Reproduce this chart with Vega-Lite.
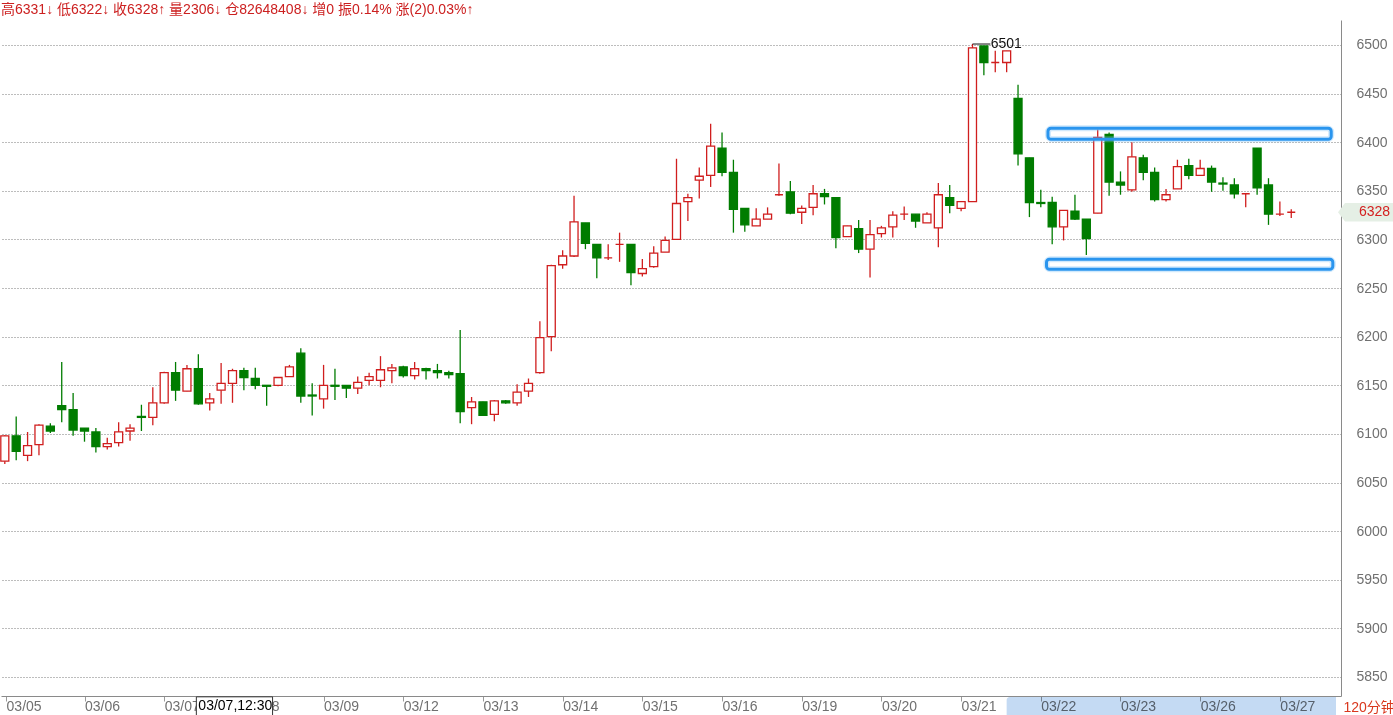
{
  "$schema": "https://vega.github.io/schema/vega-lite/v6.json",
  "width": 1340,
  "height": 676,
  "padding": {"left": 0, "top": 3, "right": 0, "bottom": 0},
  "autosize": {"type": "pad"},
  "background": "#ffffff",
  "config": {"view": {"stroke": null}, "font": "Liberation Sans"},
  "title": {
    "text": "高6331↓ 低6322↓ 收6328↑ 量2306↓  仓82648408↓ 增0 振0.14%  涨(2)0.03%↑",
    "anchor": "start",
    "frame": "group",
    "fontSize": 14,
    "fontWeight": "normal",
    "font": "Liberation Sans, Noto Sans CJK SC",
    "color": "#cc2020",
    "offset": 3
  },
  "datasets": {
    "candles": [
      {"k":0,"o":6072,"h":6099,"l":6069,"c":6098},
      {"k":1,"o":6098,"h":6118,"l":6073,"c":6082},
      {"k":2,"o":6078,"h":6102,"l":6072,"c":6088},
      {"k":3,"o":6089,"h":6110,"l":6078,"c":6109},
      {"k":4,"o":6108,"h":6111,"l":6101,"c":6103},
      {"k":5,"o":6129,"h":6174,"l":6112,"c":6125},
      {"k":6,"o":6125,"h":6142,"l":6098,"c":6104},
      {"k":7,"o":6106,"h":6106,"l":6092,"c":6103},
      {"k":8,"o":6102,"h":6106,"l":6081,"c":6087},
      {"k":9,"o":6087,"h":6096,"l":6084,"c":6090},
      {"k":10,"o":6091,"h":6112,"l":6087,"c":6102},
      {"k":11,"o":6103,"h":6110,"l":6093,"c":6106},
      {"k":12,"o":6118,"h":6130,"l":6103,"c":6117},
      {"k":13,"o":6117,"h":6148,"l":6109,"c":6132},
      {"k":14,"o":6132,"h":6164,"l":6131,"c":6163},
      {"k":15,"o":6163,"h":6174,"l":6134,"c":6145},
      {"k":16,"o":6144,"h":6171,"l":6144,"c":6167},
      {"k":17,"o":6167,"h":6182,"l":6130,"c":6131},
      {"k":18,"o":6132,"h":6142,"l":6124,"c":6136},
      {"k":19,"o":6145,"h":6173,"l":6131,"c":6152},
      {"k":20,"o":6152,"h":6167,"l":6132,"c":6165},
      {"k":21,"o":6165,"h":6168,"l":6145,"c":6158},
      {"k":22,"o":6157,"h":6168,"l":6146,"c":6150},
      {"k":23,"o":6150,"h":6150,"l":6129,"c":6149},
      {"k":24,"o":6150,"h":6158,"l":6149,"c":6158},
      {"k":25,"o":6159,"h":6171,"l":6159,"c":6169},
      {"k":26,"o":6183,"h":6188,"l":6132,"c":6139},
      {"k":27,"o":6140,"h":6152,"l":6119,"c":6139},
      {"k":28,"o":6136,"h":6171,"l":6126,"c":6150},
      {"k":29,"o":6150,"h":6167,"l":6135,"c":6149},
      {"k":30,"o":6150,"h":6150,"l":6137,"c":6147},
      {"k":31,"o":6147,"h":6159,"l":6141,"c":6153},
      {"k":32,"o":6155,"h":6163,"l":6150,"c":6159},
      {"k":33,"o":6155,"h":6180,"l":6148,"c":6166},
      {"k":34,"o":6165,"h":6172,"l":6152,"c":6168},
      {"k":35,"o":6169,"h":6170,"l":6158,"c":6160},
      {"k":36,"o":6160,"h":6174,"l":6156,"c":6167},
      {"k":37,"o":6167,"h":6168,"l":6156,"c":6165},
      {"k":38,"o":6165,"h":6172,"l":6157,"c":6163},
      {"k":39,"o":6163,"h":6165,"l":6157,"c":6161},
      {"k":40,"o":6162,"h":6207,"l":6111,"c":6123},
      {"k":41,"o":6127,"h":6138,"l":6110,"c":6133},
      {"k":42,"o":6133,"h":6133,"l":6119,"c":6119},
      {"k":43,"o":6120,"h":6135,"l":6113,"c":6134},
      {"k":44,"o":6134,"h":6135,"l":6131,"c":6132},
      {"k":45,"o":6132,"h":6151,"l":6129,"c":6143},
      {"k":46,"o":6144,"h":6157,"l":6138,"c":6152},
      {"k":47,"o":6163,"h":6216,"l":6162,"c":6199},
      {"k":48,"o":6200,"h":6274,"l":6185,"c":6273},
      {"k":49,"o":6274,"h":6289,"l":6270,"c":6283},
      {"k":50,"o":6283,"h":6345,"l":6282,"c":6318},
      {"k":51,"o":6317,"h":6317,"l":6290,"c":6296},
      {"k":52,"o":6295,"h":6295,"l":6260,"c":6281},
      {"k":53,"o":6281,"h":6295,"l":6279,"c":6281},
      {"k":54,"o":6295,"h":6307,"l":6277,"c":6295},
      {"k":55,"o":6295,"h":6295,"l":6253,"c":6266},
      {"k":56,"o":6265,"h":6280,"l":6262,"c":6270},
      {"k":57,"o":6272,"h":6293,"l":6271,"c":6286},
      {"k":58,"o":6287,"h":6303,"l":6287,"c":6299},
      {"k":59,"o":6300,"h":6383,"l":6300,"c":6337},
      {"k":60,"o":6339,"h":6347,"l":6319,"c":6343},
      {"k":61,"o":6361,"h":6374,"l":6342,"c":6365},
      {"k":62,"o":6366,"h":6419,"l":6354,"c":6396},
      {"k":63,"o":6394,"h":6410,"l":6365,"c":6369},
      {"k":64,"o":6369,"h":6382,"l":6307,"c":6331},
      {"k":65,"o":6332,"h":6332,"l":6308,"c":6315},
      {"k":66,"o":6314,"h":6332,"l":6314,"c":6321},
      {"k":67,"o":6321,"h":6333,"l":6321,"c":6326},
      {"k":68,"o":6346,"h":6378,"l":6345,"c":6346},
      {"k":69,"o":6349,"h":6360,"l":6326,"c":6327},
      {"k":70,"o":6328,"h":6335,"l":6316,"c":6332},
      {"k":71,"o":6333,"h":6356,"l":6325,"c":6347},
      {"k":72,"o":6347,"h":6352,"l":6336,"c":6344},
      {"k":73,"o":6343,"h":6343,"l":6291,"c":6302},
      {"k":74,"o":6303,"h":6314,"l":6303,"c":6314},
      {"k":75,"o":6311,"h":6320,"l":6286,"c":6290},
      {"k":76,"o":6290,"h":6320,"l":6261,"c":6305},
      {"k":77,"o":6306,"h":6314,"l":6302,"c":6312},
      {"k":78,"o":6313,"h":6329,"l":6302,"c":6325},
      {"k":79,"o":6326,"h":6334,"l":6320,"c":6326},
      {"k":80,"o":6326,"h":6326,"l":6312,"c":6319},
      {"k":81,"o":6317,"h":6328,"l":6317,"c":6326},
      {"k":82,"o":6312,"h":6358,"l":6292,"c":6346},
      {"k":83,"o":6343,"h":6356,"l":6327,"c":6335},
      {"k":84,"o":6332,"h":6339,"l":6329,"c":6339},
      {"k":85,"o":6339,"h":6501,"l":6339,"c":6497},
      {"k":86,"o":6499,"h":6499,"l":6469,"c":6482},
      {"k":87,"o":6482,"h":6494,"l":6472,"c":6482},
      {"k":88,"o":6482,"h":6494,"l":6472,"c":6494},
      {"k":89,"o":6445,"h":6459,"l":6376,"c":6388},
      {"k":90,"o":6384,"h":6384,"l":6323,"c":6338},
      {"k":91,"o":6338,"h":6351,"l":6333,"c":6337},
      {"k":92,"o":6338,"h":6344,"l":6295,"c":6313},
      {"k":93,"o":6313,"h":6330,"l":6299,"c":6330},
      {"k":94,"o":6329,"h":6346,"l":6320,"c":6321},
      {"k":95,"o":6321,"h":6321,"l":6284,"c":6301},
      {"k":96,"o":6327,"h":6413,"l":6327,"c":6405},
      {"k":97,"o":6408,"h":6410,"l":6345,"c":6359},
      {"k":98,"o":6359,"h":6370,"l":6346,"c":6356},
      {"k":99,"o":6351,"h":6400,"l":6349,"c":6385},
      {"k":100,"o":6384,"h":6387,"l":6361,"c":6369},
      {"k":101,"o":6369,"h":6374,"l":6339,"c":6341},
      {"k":102,"o":6341,"h":6352,"l":6339,"c":6346},
      {"k":103,"o":6352,"h":6382,"l":6352,"c":6375},
      {"k":104,"o":6376,"h":6383,"l":6362,"c":6366},
      {"k":105,"o":6366,"h":6382,"l":6366,"c":6373},
      {"k":106,"o":6373,"h":6376,"l":6349,"c":6359},
      {"k":107,"o":6358,"h":6364,"l":6350,"c":6357},
      {"k":108,"o":6356,"h":6363,"l":6342,"c":6347},
      {"k":109,"o":6347,"h":6347,"l":6333,"c":6347},
      {"k":110,"o":6394,"h":6394,"l":6346,"c":6353},
      {"k":111,"o":6356,"h":6363,"l":6315,"c":6326},
      {"k":112,"o":6326,"h":6339,"l":6324,"c":6326},
      {"k":113,"o":6328,"h":6331,"l":6322,"c":6328}
    ],
    "zones": [
      {"zone": "resistance", "from": 91.63, "to": 116.51, "low": 6403.0, "high": 6414.4},
      {"zone": "support", "from": 91.5, "to": 116.65, "low": 6269.4, "high": 6279.7}
    ],
    "cursor": [
      {"k": 17, "time": "03/07,12:30"}
    ],
    "selection": [
      {"range": "03/22-03/27"}
    ]
  },
  "layer": [
    {
      "data": {"name": "candles"},
      "mark": {"type": "rule", "strokeWidth": 1.3},
      "encoding": {
        "x": {
          "field": "k", "type": "quantitative",
          "scale": {"domain": [0.1046, 116.93], "nice": false, "zero": false},
          "axis": {
            "orient": "bottom",
            "zindex": 0,
            "values": [0.11, 7, 14, 21, 28, 35, 42, 49, 56, 63, 70, 77, 84, 91, 98, 105, 112],
            "labelExpr": "['03/05','03/06','03/07','03/08','03/09','03/12','03/13','03/14','03/15','03/16','03/19','03/20','03/21','03/22','03/23','03/26','03/27'][round(datum.value/7)]",
            "labelAlign": "left",
            "labelBaseline": "top",
            "labelDx": 1,
            "labelPadding": -2,
            "labelFlush": false,
            "labelOverlap": false,
            "labelFontSize": 14,
            "labelColor": "#707070",
            "labelFont": "Liberation Sans",
            "tickSize": 5,
            "tickColor": "#999999",
            "domainColor": "#8a8a8a",
            "grid": false,
            "title": "120分钟",
            "titleX": 1342,
            "titleY": 11,
            "titleAlign": "left",
            "titleBaseline": "middle",
            "titleFontSize": 14,
            "titleFontWeight": "normal",
            "titleFont": "Liberation Sans, Noto Sans CJK SC",
            "titleColor": "#d9381e"
          }
        },
        "y": {
          "field": "l", "type": "quantitative",
          "scale": {"domain": [5830.45, 6525.71], "nice": false, "zero": false},
          "axis": {
            "orient": "right",
            "values": [5850, 5900, 5950, 6000, 6050, 6100, 6150, 6200, 6250, 6300, 6350, 6400, 6450, 6500],
            "format": "d",
            "grid": true,
            "gridDash": [1, 2],
            "gridColor": "#7a7a7a",
            "gridWidth": 1,
            "ticks": false,
            "labelPadding": 15,
            "labelFontSize": 14,
            "labelColor": "#707070",
            "labelFont": "Liberation Sans",
            "domainColor": "#8a8a8a",
            "title": null
          }
        },
        "y2": {"field": "h"},
        "color": {"condition": {"test": "datum.c >= datum.o", "value": "#d01e1e"}, "value": "#007c00"}
      }
    },
    {
      "data": {"name": "selection"},
      "mark": {"type": "rect", "color": "#c4daf3", "blend": "multiply", "cornerRadiusTopLeft": 3, "cornerRadiusBottomLeft": 3},
      "encoding": {
        "x": {"datum": 88, "type": "quantitative"},
        "x2": {"datum": 116.93},
        "y": {"datum": 5829.4, "type": "quantitative"},
        "y2": {"datum": 5808}
      }
    },
    {
      "data": {"name": "candles"},
      "mark": {"type": "bar", "width": 8, "strokeWidth": 1.3},
      "encoding": {
        "x": {"field": "k", "type": "quantitative"},
        "y": {"field": "o", "type": "quantitative"},
        "y2": {"field": "c"},
        "fill": {"condition": {"test": "datum.c >= datum.o", "value": "#ffffff"}, "value": "#007c00"},
        "stroke": {"condition": {"test": "datum.c >= datum.o", "value": "#d01e1e"}, "value": "#007c00"}
      }
    },
    {
      "data": {"name": "zones"},
      "mark": {"type": "rect", "filled": false, "fill": null, "stroke": "#7cc0f7", "strokeWidth": 6, "strokeOpacity": 0.35, "cornerRadius": 4},
      "encoding": {
        "x": {"field": "from", "type": "quantitative"},
        "x2": {"field": "to"},
        "y": {"field": "low", "type": "quantitative"},
        "y2": {"field": "high"}
      }
    },
    {
      "data": {"name": "zones"},
      "mark": {"type": "rect", "filled": false, "fill": null, "stroke": "#2a95ee", "strokeWidth": 3, "cornerRadius": 3},
      "encoding": {
        "x": {"field": "from", "type": "quantitative"},
        "x2": {"field": "to"},
        "y": {"field": "low", "type": "quantitative"},
        "y2": {"field": "high"}
      }
    },
    {
      "data": {"name": "candles"},
      "transform": [{"filter": "datum.k == 85"}],
      "mark": {"type": "rule", "color": "#111111", "strokeWidth": 1},
      "encoding": {
        "x": {"field": "k", "type": "quantitative"},
        "x2": {"datum": 86.57},
        "y": {"field": "h", "type": "quantitative"}
      }
    },
    {
      "data": {"name": "candles"},
      "transform": [{"filter": "datum.k == 85"}],
      "mark": {"type": "text", "align": "left", "baseline": "middle", "fontSize": 14, "color": "#111111", "font": "Liberation Sans"},
      "encoding": {
        "x": {"datum": 86.6, "type": "quantitative"},
        "y": {"field": "h", "type": "quantitative"},
        "text": {"field": "h", "type": "quantitative", "format": "d"}
      }
    },
    {
      "data": {"name": "candles"},
      "transform": [{"filter": "datum.k == 113"}],
      "mark": {"type": "point", "filled": true, "opacity": 1, "color": "#e5efe5", "xOffset": 30, "size": 3136, "shape": "M-1,0 L-0.75,-0.33 L1,-0.33 L1,0.33 L-0.75,0.33 Z", "strokeWidth": 0},
      "encoding": {
        "x": {"datum": 116.93, "type": "quantitative"},
        "y": {"field": "c", "type": "quantitative"}
      }
    },
    {
      "data": {"name": "candles"},
      "transform": [{"filter": "datum.k == 113"}],
      "mark": {"type": "text", "align": "left", "baseline": "middle", "dx": 23, "fontSize": 14, "color": "#d42020", "font": "Liberation Sans"},
      "encoding": {
        "x": {"datum": 116.93, "type": "quantitative"},
        "y": {"field": "c", "type": "quantitative"},
        "text": {"field": "c", "type": "quantitative", "format": "d"}
      }
    },
    {
      "data": {"name": "cursor"},
      "mark": {"type": "rect", "fill": "#ffffff", "stroke": "#333333", "strokeWidth": 1, "xOffset": -2},
      "encoding": {
        "x": {"field": "k", "type": "quantitative"},
        "x2": {"datum": 23.52},
        "y": {"datum": 5829.6, "type": "quantitative"},
        "y2": {"datum": 5809}
      }
    },
    {
      "data": {"name": "cursor"},
      "mark": {"type": "text", "align": "left", "baseline": "middle", "dx": 0, "fontSize": 14, "color": "#000000", "font": "Liberation Sans"},
      "encoding": {
        "x": {"field": "k", "type": "quantitative"},
        "y": {"datum": 5820, "type": "quantitative"},
        "text": {"field": "time", "type": "nominal"}
      }
    }
  ]
}
